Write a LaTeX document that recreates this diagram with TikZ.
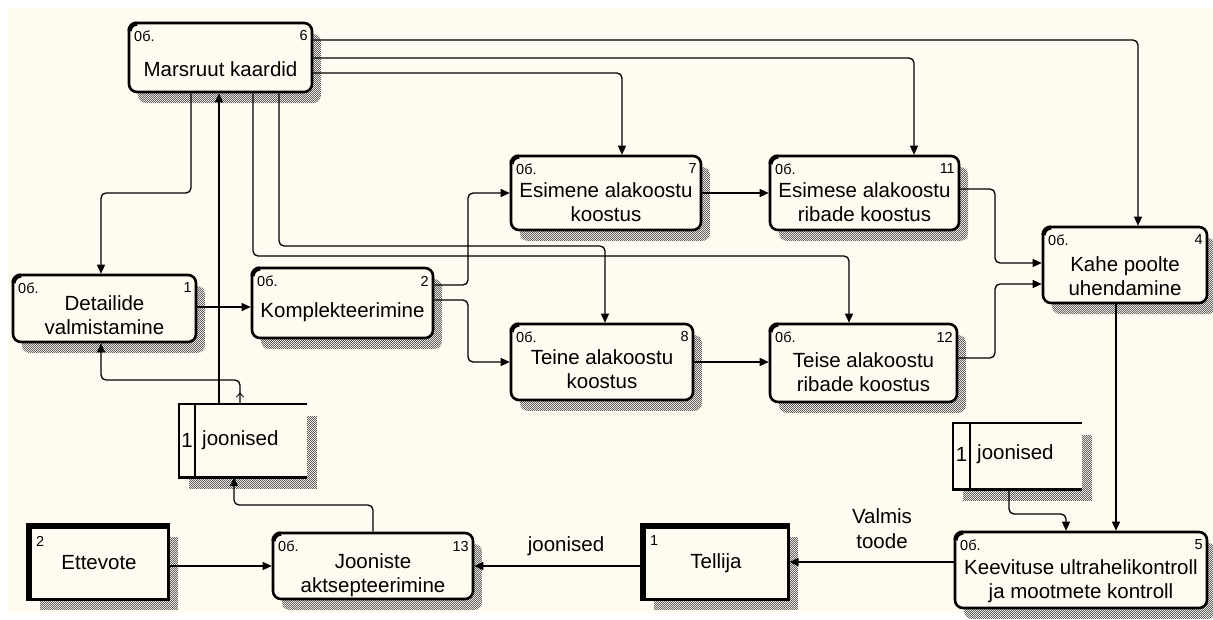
\documentclass[tikz,border=0pt]{standalone}
\usepackage{fontspec}
\setmainfont{Liberation Sans}
\usetikzlibrary{arrows.meta,patterns}
\definecolor{bgc}{RGB}{255,251,240}
\pgfdeclarepatternformonly{checker}{\pgfpointorigin}{\pgfpoint{2.4pt}{2.4pt}}{\pgfpoint{2.4pt}{2.4pt}}{%
  \pgfpathrectangle{\pgfpointorigin}{\pgfpoint{1.2pt}{1.2pt}}%
  \pgfpathrectangle{\pgfpoint{1.2pt}{1.2pt}}{\pgfpoint{1.2pt}{1.2pt}}%
  \pgfusepath{fill}}
\tikzset{
  shd/.style={pattern=checker, pattern color=black!62},
  proc/.style={draw, line width=2.6pt, rounded corners=8pt, fill=bgc, inner sep=0pt},
  ptext/.style={align=center, font=\fontsize{20.5}{24}\selectfont, inner sep=0pt},
  small/.style={font=\fontsize{14.5}{16}\selectfont, inner sep=0pt},
  flow/.style={line width=1.3pt, rounded corners=5pt, -{Triangle[length=9pt,width=8pt]}},
  lbl/.style={align=center, font=\fontsize{20.5}{25}\selectfont, inner sep=0pt},
  border/.style={line width=2.6pt},
}
% name, x1, y1, x2, y2, number, text y, text
\newcommand\procbox[8]{%
  \fill[shd, rounded corners=8pt] ({#2+9},{#3+11}) rectangle ({#4+9},{#5+11});
  \node[proc, minimum width={(#4-#2)*1pt}, minimum height={(#5-#3)*1pt}] (#1) at ({(#2+#4)/2},{(#3+#5)/2}) {};
  \draw[line width=4.5pt] ({#2+0.5},{#3+8}) arc[start angle=180, end angle=270, radius=7.5];
  \node[small, anchor=west] (#1-c) at ({#2+5},{#3+13}) {0б.};
  \node[small, anchor=east] (#1-n) at ({#4-4},{#3+13}) {#6};
  \node[ptext] (#1-t) at ({(#2+#4)/2},{#7}) {#8};
}
% name, x1, y1, x2, y2, divider x, text y
\newcommand\dstore[7]{%
  \fill[shd] ({#2+10},{#3+12}) rectangle ({#4+10},{#5+11});
  \node[fill=bgc, inner sep=0pt, minimum width={(#4-#2)*1pt}, minimum height={(#5-#3)*1pt}] (#1) at ({(#2+#4)/2},{(#3+#5)/2}) {};
  \draw[border] (#1.north east) -- (#1.north west) -- (#1.south west) -- (#1.south east);
  \draw[border] (#6,0 |- #1.north) -- (#6,0 |- #1.south);
  \node[ptext] (#1-n) at ({(#2+#6)/2},{#7}) {1};
  \node[ptext, anchor=west] (#1-t) at ({#6+7},{#7}) {joonised};
}
% name, x1, y1, x2, y2, number, text
\newcommand\extent[7]{%
  \fill[shd] ({#2+10},{#3+10}) rectangle ({#4+10},{#5+10});
  \node[draw, line width=3pt, fill=bgc, inner sep=0pt, font=\fontsize{20.5}{24}\selectfont, minimum width={(#4-#2)*1pt}, minimum height={(#5-#3)*1pt}] (#1) at ({(#2+#4)/2},{(#3+#5)/2}) {#7};
  \draw[line width=5.5pt] (#1.south west) -- (#1.north west) -- (#1.north east);
  \node[small, anchor=west] (#1-n) at ({#2+6},{#3+14}) {#6};
}
\begin{document}
\begin{tikzpicture}[x=1pt, y=-1pt]
\useasboundingbox (0,0) rectangle (1213,619);
\fill[bgc] (7,8) rectangle (1213,613);

% process boxes
\procbox{mars}{129}{23}{312}{92}{6}{69}{Marsruut kaardid}
\procbox{det}{13}{275}{196}{342}{1}{315}{Detailide\\valmistamine}
\procbox{kompl}{252}{268}{433}{338}{2}{312}{Komplekteerimine}
\procbox{e1}{511}{156}{701}{230}{7}{202}{Esimene alakoostu\\koostus}
\procbox{e2}{770}{156}{959}{230}{11}{202}{Esimese alakoostu\\ribade koostus}
\procbox{t1}{511}{324}{693}{400}{8}{369}{Teine alakoostu\\koostus}
\procbox{t2}{770}{324}{957}{402}{12}{372}{Teise alakoostu\\ribade koostus}
\procbox{kahe}{1043}{227}{1207}{303}{4}{276}{Kahe poolte\\uhendamine}
\procbox{keev}{955}{532}{1207}{608}{5}{581}{Keevituse ultrahelikontroll\\ja mootmete kontroll}
\procbox{joon}{273}{533}{473}{599}{13}{575}{Jooniste\\aktsepteerimine}

% data stores
\dstore{st1}{179}{404}{307}{477}{195}{440}
\dstore{st2}{953}{423}{1082}{489}{970}{454}

% external entities
\extent{ett}{30}{527}{168}{599}{2}{Ettevote}
\extent{tell}{644}{527}{788}{599}{1}{Tellija}

% connectors
\draw[flow] (191,0 |- mars.south) |- (101,193) -- (101,0 |- det.north);
\draw[flow] (219,0 |- st1.north) -- (219,0 |- mars.south);
\draw[flow] (240,0 |- st1.north) |- (101,380) -- (101,0 |- det.south);
\coordinate (chev) at (240,393);
\draw[line width=0.8pt] ([xshift=-3.5pt, yshift=-4pt]chev) -- (chev) -- ([xshift=3.5pt, yshift=-4pt]chev);
\draw[flow] (mars.east |- 0,73) -| (622,0 |- e1.north);
\draw[flow] (mars.east |- 0,58) -| (914,0 |- e2.north);
\draw[flow] (mars.east |- 0,40) -| (1138,0 |- kahe.north);
\draw[flow] (279,0 |- mars.south) |- (605,246) -- (605,0 |- t1.north);
\draw[flow] (253,0 |- mars.south) |- (849,256) -- (849,0 |- t2.north);
\draw[flow] (kompl.east |- 0,285) -| (468,193) -- (e1.west);
\draw[flow] (kompl.east |- 0,300) -| (468,362) -- (t1.west);
\draw[flow] (det.east |- 0,307) -- (kompl.west |- 0,307);
\draw[flow] (e1.east) -- (e2.west);
\draw[flow] (t1.east) -- (t2.west |- t1.east);
\draw[flow] (e2.east |- 0,189) -| (995,263) -- (kahe.west |- 0,263);
\draw[flow] (t2.east |- 0,358) -| (995,284) -- (kahe.west |- 0,284);
\draw[flow] (1116,0 |- kahe.south) -- (1116,0 |- keev.north);
\draw[flow] (1009,0 |- st2.south) |- (1066,514) -- (1066,0 |- keev.north);
\draw[flow] (keev.west |- 0,562) -- (tell.east |- 0,562);
\draw[flow] (tell.west |- 0,566) -- (joon.east |- 0,566);
\draw[flow] (ett.east |- 0,566) -- (joon.west |- 0,566);
\draw[flow] (373,0 |- joon.north) |- (234,505) -- (234,0 |- st1.south);

% labels
\node[lbl] (l1) at (566,546) {joonised};
\node[lbl] (l2) at (882,529) {Valmis\\toode};
\end{tikzpicture}
\end{document}
